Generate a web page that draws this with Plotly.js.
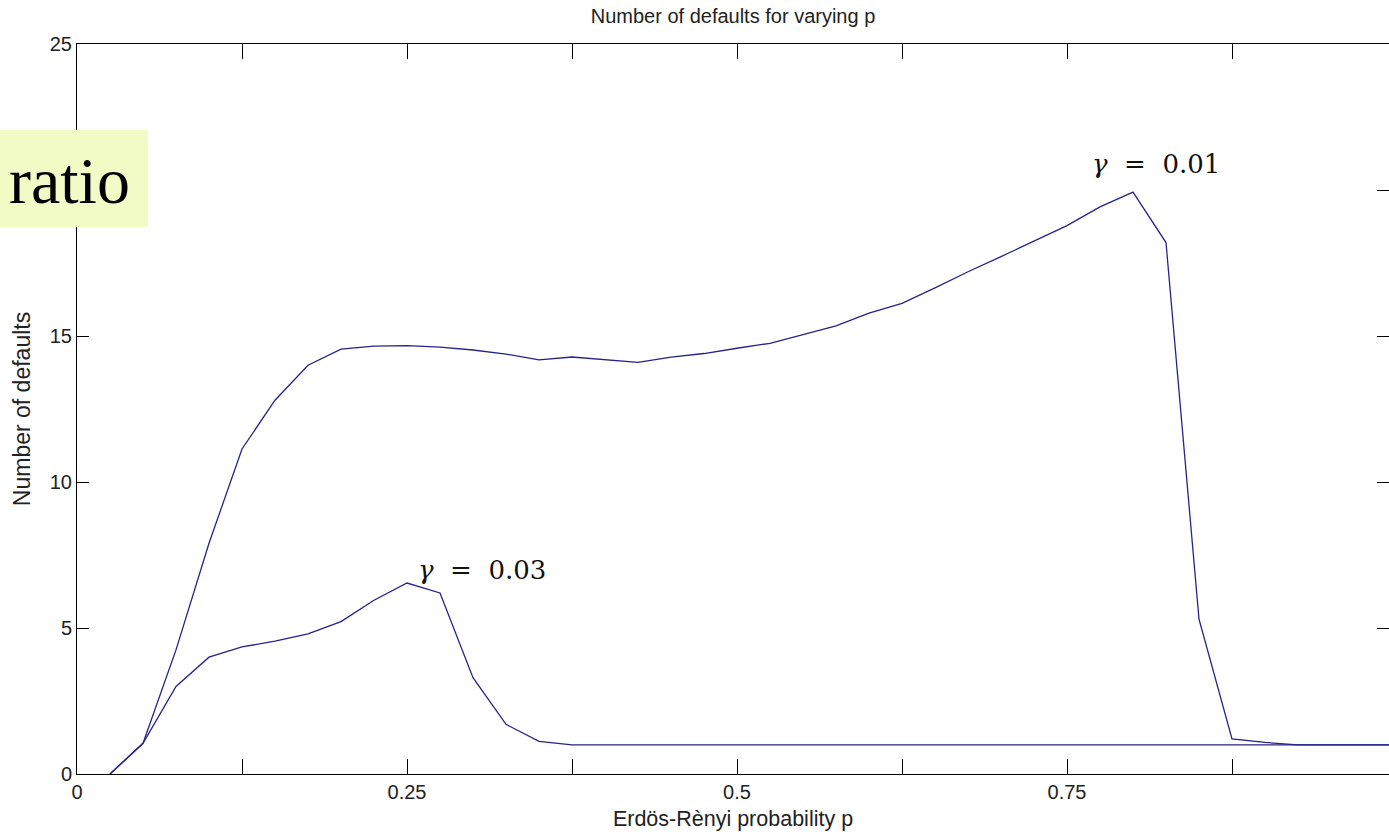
<!DOCTYPE html>
<html>
<head>
<meta charset="utf-8">
<script src="https://cdn.plot.ly/plotly-3.0.1.min.js"></script>
<style>
  html, body { margin: 0; padding: 0; background: #fff; }
  #chart { width: 1389px; height: 838px; }
</style>
</head>
<body>
<div id="chart"></div>
<script>
// Erdös-Rènyi link probability p
const p = [0.025, 0.05, 0.075, 0.1, 0.125, 0.15, 0.175, 0.2, 0.225, 0.25,
           0.275, 0.3, 0.325, 0.35, 0.375, 0.4, 0.425, 0.45, 0.475, 0.5,
           0.525, 0.55, 0.575, 0.6, 0.625, 0.65, 0.675, 0.7, 0.725, 0.75,
           0.775, 0.8, 0.825, 0.85, 0.875, 0.9, 0.925, 0.95, 0.975, 1.0];

// Number of defaults, gamma = 0.01
const defaultsGamma001 = [0, 1.05, 4.25, 7.9, 11.13, 12.8, 14.0, 14.55, 14.65, 14.67,
                          14.62, 14.52, 14.38, 14.18, 14.28, 14.18, 14.1, 14.28, 14.4, 14.58,
                          14.75, 15.05, 15.35, 15.78, 16.12, 16.65, 17.2, 17.72, 18.25, 18.78,
                          19.42, 19.93, 18.2, 5.3, 1.2, 1.08, 1, 1, 1, 1];

// Number of defaults, gamma = 0.03
const defaultsGamma003 = [0, 1.05, 3.0, 4.0, 4.35, 4.55, 4.8, 5.22, 5.95, 6.54,
                          6.2, 3.3, 1.7, 1.12, 1, 1, 1, 1, 1, 1,
                          1, 1, 1, 1, 1, 1, 1, 1, 1, 1,
                          1, 1, 1, 1, 1, 1, 1, 1, 1, 1];

// Axis ticks (the 20 label sits under the "ratio" box, so it is left blank)
const xTickVals = [0, 0.125, 0.25, 0.375, 0.5, 0.625, 0.75, 0.875, 1];
const xTickText = ['0', '', '0.25', '', '0.5', '', '0.75', '', '1'];
const yTickVals = [0, 5, 10, 15, 20, 25];
const yTickText = ['0', '5', '10', '15', '', '25'];

const lineColor = '#24248a';
const sansFont = '"Liberation Sans", Arial, sans-serif';
const textColor = '#222';

const traces = [
  { x: p, y: defaultsGamma001, type: 'scatter', mode: 'lines',
    line: { color: lineColor, width: 1.3 }, name: 'γ = 0.01', showlegend: false },
  { x: p, y: defaultsGamma003, type: 'scatter', mode: 'lines',
    line: { color: lineColor, width: 1.3 }, name: 'γ = 0.03', showlegend: false }
];

const W = 1389, H = 838;
const L = 77, R = 0, T = 44, B = 64;
const plotW = W - L - R, plotH = H - T - B;
// paper coordinates from pixel positions of the page
const px = v => (v - L) / plotW;
const py = v => (H - B - v) / plotH;

const layout = {
  width: W, height: H,
  margin: { l: L, r: R, t: T, b: B, pad: 0 },
  paper_bgcolor: '#fff', plot_bgcolor: '#fff',
  showlegend: false,
  font: { family: sansFont, size: 20, color: textColor },
  title: {
    text: 'Number of defaults for varying p',
    font: { family: sansFont, size: 20, color: textColor },
    xref: 'paper', x: 0.5, xanchor: 'center',
    yref: 'container', y: 1 - 16 / H, yanchor: 'middle'
  },
  xaxis: {
    range: [0, plotW / 1320],
    tickmode: 'array', tickvals: xTickVals, ticktext: xTickText,
    ticks: 'inside', ticklen: 15, tickwidth: 1, tickcolor: '#000',
    showline: true, linecolor: '#000', linewidth: 1, mirror: 'ticks',
    showgrid: false, zeroline: false,
    tickfont: { family: sansFont, size: 20, color: textColor },
    title: { text: 'Erdös-Rènyi probability p', standoff: 8,
             font: { family: sansFont, size: 21.5, color: textColor } }
  },
  yaxis: {
    range: [0, 25],
    tickmode: 'array', tickvals: yTickVals, ticktext: yTickText,
    ticks: 'inside', ticklen: 12, tickwidth: 1, tickcolor: '#000',
    showline: true, linecolor: '#000', linewidth: 1, mirror: 'ticks',
    showgrid: false, zeroline: false,
    tickfont: { family: sansFont, size: 20, color: textColor },
    title: { text: 'Number of defaults', standoff: 12,
             font: { family: sansFont, size: 23, color: textColor } }
  },
  shapes: [
    { type: 'rect', xref: 'paper', yref: 'paper', layer: 'above',
      x0: px(0), x1: px(148), y0: py(227), y1: py(130),
      fillcolor: '#f2fac6', line: { width: 0 } }
  ],
  annotations: [
    { text: 'ratio', xref: 'paper', yref: 'paper',
      x: px(7), xanchor: 'left', y: py(180), yanchor: 'middle',
      showarrow: false,
      font: { family: '"Liberation Serif", "Times New Roman", serif', size: 66, color: '#000' } },
    { text: '<i>γ</i>\u00a0\u00a0=\u00a0\u00a00.03', xref: 'x', yref: 'y',
      x: 0.257, xanchor: 'left', y: 7.0, yanchor: 'middle',
      showarrow: false,
      font: { family: '"DejaVu Serif", serif', size: 26, color: '#111' } },
    { text: '<i>γ</i>\u00a0\u00a0=\u00a0\u00a00.01', xref: 'x', yref: 'y',
      x: 0.7675, xanchor: 'left', y: 20.9, yanchor: 'middle',
      showarrow: false,
      font: { family: '"DejaVu Serif", serif', size: 26, color: '#111' } }
  ]
};

Plotly.newPlot('chart', traces, layout, { staticPlot: true, displayModeBar: false });
</script>
</body>
</html>
